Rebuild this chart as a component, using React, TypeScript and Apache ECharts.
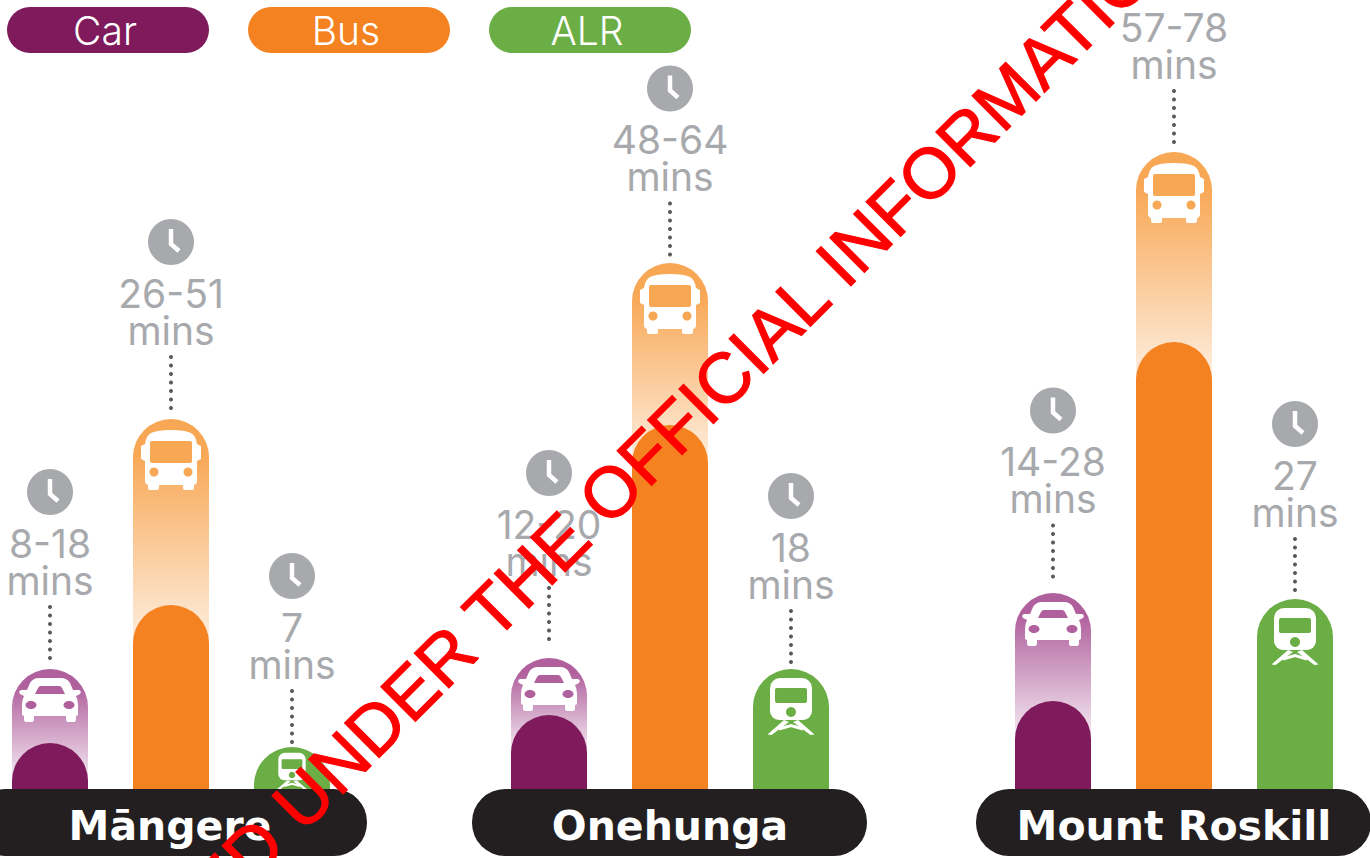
import React, { useEffect, useRef } from "react";
import * as echarts from "echarts";

// Data
const modes = ["Car", "Bus", "ALR"];
const places = ["Māngere", "Onehunga", "Mount Roskill"];
const timeLabels = [
  ["8-18", "26-51", "7"],
  ["12-20", "48-64", "18"],
  ["14-28", "57-78", "27"],
];
// Drawn bar heights as printed in the graphic (the source bars are not strictly to scale)
const barLow = [
  [47, 185, null],
  [75, 365, null],
  [89, 448, null],
];
const barHigh = [
  [121, 371, 43],
  [132, 527, 121],
  [197, 638, 191],
];
const modeColors = ["#7f1a5c", "#f58220", "#6aae45"];
const modeTopColors = ["#b0609d", "#f8a755", "#6aae45"];
const fadeColors = ["rgba(176,96,157,0.12)", "rgba(248,167,85,0.18)", "#6aae45"];

// Per-mark lift of the leader, time label and clock above the bar
const noteLift = [
  [0, 0, -6],
  [8, -2.5, -4],
  [5.5, -1, -2],
];
// Icon size per mark (the shortest bar carries a smaller train)
const iconScale = [
  [1, 1, 0.65],
  [1, 1, 1],
  [1, 1, 1],
];

const GREY = "#a7a9ac";
const FONT = "Inter";
const BAND = 121;
const groupCentres = [50, 549, 1053];
const pills = [
  [-28, 170],
  [472, 670],
  [976, 1174],
];
const legendX = [7, 248, 489];

const carPath =
  "M0 9L11 9Q17 9 20 14L23 21L29 21Q32 22 30 25L26 27Q28 31 28 36L28 45Q28 47 26 47L26 50Q26 53 24 53L18 53Q16 53 16 50L16 47L-16 47L-16 50Q-16 53 -18 53L-24 53Q-26 53 -26 50L-26 47Q-28 47 -28 45L-28 36Q-28 31 -26 27L-30 25Q-32 22 -29 21L-23 21L-20 14Q-17 9 -11 9Z";
const carWindow = "M-9 17L9 17Q11 17 12 19L15 25L-15 25L-12 19Q-11 17 -9 17Z";
const busPath =
  "M0 11Q14 11 20 14Q25 17 26 25L30 27L30 40L26 42L26 62Q26 65 23 66L23 69Q23 71 21 71L14 71Q12 71 12 69L12 66L-12 66L-12 69Q-12 71 -14 71L-21 71Q-23 71 -23 69L-23 66Q-26 65 -26 62L-26 42L-30 40L-30 27L-26 25Q-25 17 -20 14Q-14 11 0 11Z";

function carIcon(hole: string) {
  return [
    { type: "path", shape: { pathData: carPath }, style: { fill: "#fff" } },
    { type: "path", shape: { pathData: carWindow }, style: { fill: hole } },
    { type: "ellipse", shape: { cx: -19, cy: 36, rx: 5.5, ry: 4 }, style: { fill: hole } },
    { type: "ellipse", shape: { cx: 19, cy: 36, rx: 5.5, ry: 4 }, style: { fill: hole } },
  ];
}
function busIcon(hole: string) {
  return [
    { type: "path", shape: { pathData: busPath }, style: { fill: "#fff" } },
    { type: "rect", shape: { x: -21, y: 22, width: 42, height: 22, r: 2 }, style: { fill: hole } },
    { type: "circle", shape: { cx: -17, cy: 53, r: 4.5 }, style: { fill: hole } },
    { type: "circle", shape: { cx: 17, cy: 53, r: 4.5 }, style: { fill: hole } },
  ];
}
function trainIcon(hole: string) {
  return [
    { type: "rect", shape: { x: -21, y: 9, width: 42, height: 42, r: [10, 10, 9, 9] }, style: { fill: "#fff" } },
    { type: "rect", shape: { x: -16, y: 19, width: 32, height: 15, r: 2 }, style: { fill: hole } },
    { type: "circle", shape: { cx: 0, cy: 43, r: 5 }, style: { fill: hole } },
    { type: "polygon", shape: { points: [[-23.5, 65.5], [-7, 51], [-2, 53], [-19.5, 66]] }, style: { fill: "#fff" } },
    { type: "polygon", shape: { points: [[23.5, 65.5], [7, 51], [2, 53], [19.5, 66]] }, style: { fill: "#fff" } },
    { type: "polyline", shape: { points: [[-12, 60], [0, 56.5], [12, 60]] }, style: { stroke: "#fff", lineWidth: 3, fill: "none" } },
  ];
}

function annotation(group: number) {
  return (params: any, api: any) => {
    const i = params.dataIndex;
    const [cx, top] = api.coord([api.value(0), api.value(1)]);
    const lift = noteLift[group][i];
    const dots = [0, 1, 2, 3, 4, 5, 6].map((k) => ({
      type: "circle",
      shape: { cx: 0, cy: -11 - lift - k * 8.5, r: 2 },
      style: { fill: "#58595b" },
    }));
    const icon = [carIcon, busIcon, trainIcon][i](modeTopColors[i]);
    const s = iconScale[group][i];
    return {
      type: "group",
      x: cx,
      y: top,
      children: [
        ...dots,
        { type: "group", scaleX: s, scaleY: s, children: icon },
        { type: "text", style: { x: 0, y: -89 - lift, text: "mins", fill: GREY, fontFamily: FONT, fontSize: 39, textAlign: "center", textVerticalAlign: "middle" } },
        { type: "text", style: { x: 0, y: -126 - lift, text: timeLabels[group][i], fill: GREY, fontFamily: FONT, fontSize: 39, textAlign: "center", textVerticalAlign: "middle" } },
        { type: "circle", shape: { cx: 0, cy: -177 - lift, r: 23 }, style: { fill: GREY } },
        { type: "polyline", shape: { points: [[0, -190 - lift], [0, -175 - lift], [8, -168 - lift]] }, style: { stroke: "#fff", lineWidth: 4.5, fill: "none" } },
      ],
    };
  };
}

export default function App() {
  const ref = useRef<HTMLDivElement>(null);
  useEffect(() => {
    document.body.style.margin = "0";
    const chart = echarts.init(ref.current!, null, { renderer: "svg" });
    const grid = groupCentres.map((c) => ({ left: c, width: BAND * 2, top: 0, height: 790 }));
    const xAxis = groupCentres.map((_, g) => ({ type: "category", gridIndex: g, data: modes, show: false, boundaryGap: false }));
    const yAxis = groupCentres.map((_, g) => ({ type: "value", gridIndex: g, min: 0, max: 790, show: false }));
    const series: any[] = [];
    groupCentres.forEach((_, g) => {
      series.push({
        type: "bar",
        name: places[g] + " longest",
        xAxisIndex: g,
        yAxisIndex: g,
        barWidth: 76,
        barGap: "-100%",
        clip: false,
        silent: true,
        data: barHigh[g].map((h, i) => {
          const low = barLow[g][i];
          const solid = low == null;
          const end = solid ? 1 : Math.min(1, (h - low + 38) / h);
          return {
            value: h,
            itemStyle: {
              borderRadius: [38, 38, 0, 0],
              color: solid
                ? modeColors[i]
                : new echarts.graphic.LinearGradient(0, 0, 0, 1, [
                    { offset: 0, color: modeTopColors[i] },
                    { offset: end * 0.15, color: modeTopColors[i] },
                    { offset: end, color: fadeColors[i] },
                    { offset: 1, color: fadeColors[i] },
                  ]),
            },
          };
        }),
      });
      series.push({
        type: "bar",
        name: places[g] + " shortest",
        xAxisIndex: g,
        yAxisIndex: g,
        barWidth: 76,
        barGap: "-100%",
        clip: false,
        silent: true,
        data: barLow[g].map((v, i) => ({
          value: v,
          itemStyle: { borderRadius: [38, 38, 0, 0], color: modeColors[i] },
        })),
      });
      series.push({
        type: "custom",
        name: places[g] + " notes",
        xAxisIndex: g,
        yAxisIndex: g,
        silent: true,
        z: 5,
        clip: false,
        renderItem: annotation(g),
        data: barHigh[g].map((h, i) => [i, h]),
      });
    });

    const graphic: any[] = [];
    modes.forEach((m, i) => {
      graphic.push({ type: "rect", z: 100, shape: { x: legendX[i], y: 7, width: 202, height: 46, r: 23 }, style: { fill: modeColors[i] } });
      graphic.push({
        type: "text",
        z: 101,
        style: { x: legendX[i] + 98, y: 30.5, text: m, fill: "#fff", fontFamily: FONT, fontWeight: 300, fontSize: 39, textAlign: "center", textVerticalAlign: "middle" },
      });
    });
    places.forEach((p, g) => {
      graphic.push({ type: "rect", z: 100, shape: { x: pills[g][0], y: 789, width: 395, height: 67, r: 33 }, style: { fill: "#231f20" } });
      graphic.push({
        type: "text",
        z: 101,
        style: { x: pills[g][1], y: 826, text: p, fill: "#fff", fontFamily: "DejaVu Sans", fontWeight: 700, fontSize: 41, textAlign: "center", textVerticalAlign: "middle" },
      });
    });
    graphic.push({
      type: "text",
      z: 200,
      x: 22,
      y: 1117,
      rotation: Math.PI / 4,
      style: {
        x: 0,
        y: -26,
        text: "RELEASED UNDER THE OFFICIAL INFORMATION ACT",
        fill: "#ff0000",
        stroke: "#ff0000",
        lineWidth: 1.2,
        fontFamily: "Liberation Sans",
        fontSize: 71,
        textAlign: "left",
        textVerticalAlign: "middle",
      },
    });

    chart.setOption({ animation: false, backgroundColor: "#fff", grid, xAxis, yAxis, series, graphic, tooltip: { show: false } });
    return () => chart.dispose();
  }, []);
  return <div ref={ref} style={{ position: "fixed", left: 0, top: 0, width: 1370, height: 858, overflow: "hidden" }} />;
}
